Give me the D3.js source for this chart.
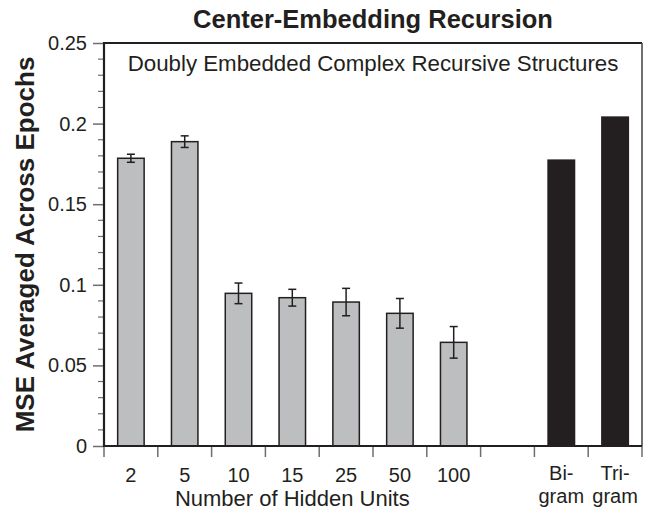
<!DOCTYPE html>
<html>
<head>
<meta charset="utf-8">
<script src="https://cdn.jsdelivr.net/npm/d3@7"></script>
<style>
  html, body { margin: 0; padding: 0; background: #fff; }
  svg text { font-family: "Liberation Sans", Arial, Helvetica, sans-serif; fill: #231f20; }
</style>
</head>
<body>
<svg id="chart" width="652" height="515"></svg>
<script>
// ---- data ----
const hiddenUnits = ["2", "5", "10", "15", "25", "50", "100"];
const hiddenMSE   = [0.1785, 0.1888, 0.0947, 0.0920, 0.0893, 0.0823, 0.0643];
const hiddenErr   = [0.0025, 0.0036, 0.0064, 0.0052, 0.0085, 0.0092, 0.0098];
const ngramNames  = ["Bi-gram", "Tri-gram"];
const ngramMSE    = [0.1778, 0.2045];
const yTickValues = [0, 0.05, 0.1, 0.15, 0.2, 0.25];
const yTickLabels = ["0", "0.05", "0.1", "0.15", "0.2", "0.25"];

const chartTitle = "Center-Embedding Recursion";
const chartSubtitle = "Doubly Embedded Complex Recursive Structures";
const xTitle = "Number of Hidden Units";
const yTitle = "MSE Averaged Across Epochs";

// ---- layout ----
const mLeft = 104, mRight = 642, mTop = 43, mBottom = 446;
const dark = "#231f20", tickGrey = "#6d6e71", barGrey = "#bcbec0";

const categories = hiddenUnits.concat(["gap"], ngramNames);
const svg = d3.select("#chart");

const x = d3.scaleBand().domain(categories).range([mLeft, mRight]).padding(0);
const y = d3.scaleLinear().domain([0, 0.25]).range([mBottom, mTop]);
const bw = x.bandwidth();
const barW = bw * 0.52;

// frame: top and right border
svg.append("line").attr("x1", mLeft).attr("x2", mRight).attr("y1", mTop).attr("y2", mTop)
  .attr("stroke", dark).attr("stroke-width", 2);
svg.append("line").attr("x1", mRight).attr("x2", mRight).attr("y1", mTop).attr("y2", mBottom)
  .attr("stroke", "#414042").attr("stroke-width", 1.5);

// y axis ticks (minor every 0.01)
const minor = d3.range(0, 0.2501, 0.01).filter(v => !yTickValues.some(t => Math.abs(t - v) < 1e-6));
svg.append("g").selectAll("line").data(minor).join("line")
  .attr("x1", mLeft - 6).attr("x2", mLeft).attr("y1", d => y(d)).attr("y2", d => y(d))
  .attr("stroke", tickGrey).attr("stroke-width", 1.2);

const yAxis = d3.axisLeft(y).tickValues(yTickValues)
  .tickFormat((d, i) => yTickLabels[i]).tickSize(11).tickPadding(6);
const gy = svg.append("g").attr("transform", `translate(${mLeft},0)`).call(yAxis);
gy.select(".domain").remove();
gy.selectAll(".tick line").attr("stroke", tickGrey).attr("stroke-width", 1.5);
gy.selectAll(".tick text").attr("font-size", 20).attr("fill", dark)
  .style("font-family", '"Liberation Sans", Arial, sans-serif');

// x axis ticks at bin boundaries
const boundaries = categories.map(c => x(c)).concat([mRight]);
svg.append("g").selectAll("line").data(boundaries).join("line")
  .attr("x1", d => d).attr("x2", d => d).attr("y1", mBottom).attr("y2", mBottom + 11)
  .attr("stroke", tickGrey).attr("stroke-width", 1.5);

// bars: hidden units
const hidden = hiddenUnits.map((u, i) => ({u, v: hiddenMSE[i], e: hiddenErr[i]}));
svg.append("g").selectAll("rect").data(hidden).join("rect")
  .attr("x", d => x(d.u) + (bw - barW) / 2 + 0.75)
  .attr("width", barW - 1.5)
  .attr("y", d => y(d.v))
  .attr("height", d => mBottom - y(d.v))
  .attr("fill", barGrey).attr("stroke", dark).attr("stroke-width", 1.5);

// error bars
const eg = svg.append("g").attr("stroke", dark).attr("stroke-width", 1.5);
hidden.forEach(d => {
  const cx = x(d.u) + bw / 2;
  eg.append("line").attr("x1", cx).attr("x2", cx).attr("y1", y(d.v + d.e)).attr("y2", y(d.v - d.e));
  eg.append("line").attr("x1", cx - 4).attr("x2", cx + 4).attr("y1", y(d.v + d.e)).attr("y2", y(d.v + d.e));
  eg.append("line").attr("x1", cx - 4).attr("x2", cx + 4).attr("y1", y(d.v - d.e)).attr("y2", y(d.v - d.e));
});

// bars: n-grams
const ngram = ngramNames.map((n, i) => ({n, v: ngramMSE[i]}));
svg.append("g").selectAll("rect").data(ngram).join("rect")
  .attr("x", d => x(d.n) + (bw - barW) / 2)
  .attr("width", barW)
  .attr("y", d => y(d.v))
  .attr("height", d => mBottom - y(d.v))
  .attr("fill", dark);

// axis lines
svg.append("line").attr("x1", mLeft).attr("x2", mLeft).attr("y1", mTop - 1).attr("y2", mBottom + 1)
  .attr("stroke", dark).attr("stroke-width", 2.2);
svg.append("line").attr("x1", mLeft).attr("x2", mRight).attr("y1", mBottom).attr("y2", mBottom)
  .attr("stroke", dark).attr("stroke-width", 2.2);

// x tick labels
svg.append("g").selectAll("text").data(hiddenUnits).join("text")
  .attr("x", d => x(d) + bw / 2).attr("y", 482)
  .attr("text-anchor", "middle").attr("font-size", 20).text(d => d);
ngramNames.forEach(n => {
  const parts = n.split("-");
  const t = svg.append("text").attr("text-anchor", "middle").attr("font-size", 20);
  t.append("tspan").attr("x", x(n) + bw / 2).attr("y", 480).text(parts[0] + "-");
  t.append("tspan").attr("x", x(n) + bw / 2).attr("y", 503).text(parts[1]);
});

// titles
svg.append("text").attr("x", (mLeft + mRight) / 2).attr("y", 28)
  .attr("text-anchor", "middle").attr("font-size", 25.5).attr("font-weight", "bold").text(chartTitle);
svg.append("text").attr("x", (mLeft + mRight) / 2).attr("y", 71)
  .attr("text-anchor", "middle").attr("font-size", 22.3).text(chartSubtitle);
svg.append("text")
  .attr("x", (x(hiddenUnits[0]) + x(hiddenUnits[hiddenUnits.length - 1]) + bw) / 2).attr("y", 506)
  .attr("text-anchor", "middle").attr("font-size", 22).text(xTitle);
svg.append("text")
  .attr("transform", `translate(34,${(mTop + mBottom) / 2}) rotate(-90)`)
  .attr("text-anchor", "middle").attr("font-size", 26).attr("font-weight", "bold").text(yTitle);
</script>
</body>
</html>
